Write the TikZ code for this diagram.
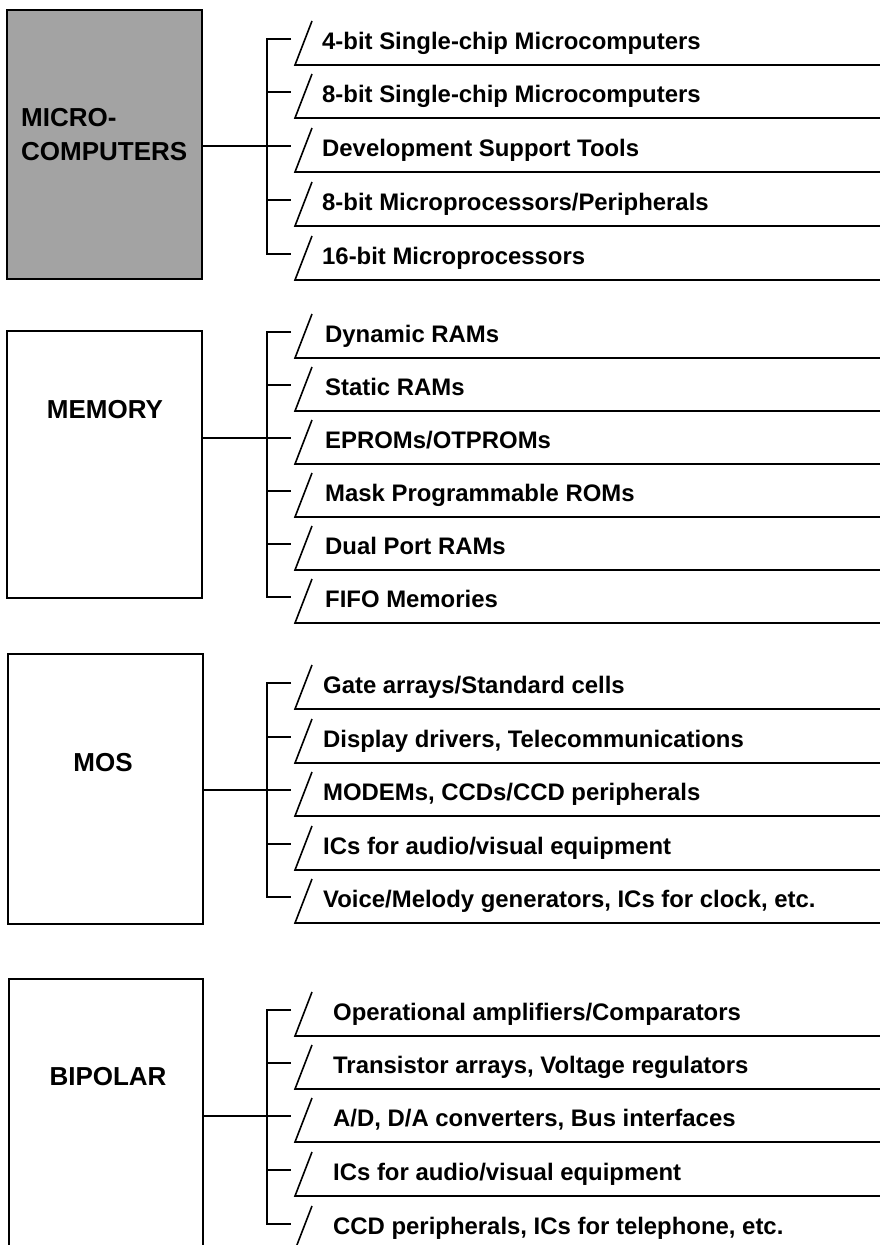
\documentclass[tikz,border=0pt]{standalone}
\usepackage{fontspec}
\setmainfont{Liberation Sans}
\definecolor{boxgray}{RGB}{163,163,163}
\begin{document}
\begin{tikzpicture}[x=1pt,y=-1pt,
  rule/.style={line width=1.6pt, black},
  catbox/.style={draw, line width=1.8pt, anchor=north west, inner sep=0pt},
  catlabel/.style={font=\fontsize{26}{34}\selectfont\bfseries, inner sep=0pt, align=left},
  itemtext/.style={font=\fontsize{23.9}{28}\selectfont\bfseries, inner sep=0pt, anchor=base west},
]
\useasboundingbox (0,0) rectangle (880,1245);
\clip (0,0) rectangle (880,1245);

% ---------- category boxes ----------
\node[catbox, fill=boxgray, minimum width=195pt, minimum height=269pt] (micro) at (6,9) {};
\node[catbox, minimum width=195pt, minimum height=267pt] (memory) at (6,330) {};
\node[catbox, minimum width=195pt, minimum height=270pt] (mos) at (7,653) {};
\node[catbox, minimum width=194pt, minimum height=300pt] (bipolar) at (8,978) {};

\node[catlabel, anchor=west] (microlabel) at (21,135) {MICRO-\\COMPUTERS};
\node[catlabel] (memorylabel) at (105,410) {MEMORY};
\node[catlabel] (moslabel) at (103,763) {MOS};
\node[catlabel] (bipolarlabel) at (108,1077) {BIPOLAR};

% ---------- one entry: branch, slash and rule, with its text ----------
\newcommand\entryrow[4]{% #1 name, #2 branch y, #3 text x, #4 text
  \coordinate (#1-bus) at (267,#2);
  \coordinate (#1-end) at (291,#2);
  \coordinate (#1-top) at (312,#2-18);
  \coordinate (#1-foot) at (295,#2+26);
  \coordinate (#1-rule) at (880,#2+26);
  \node[itemtext] (#1) at (#3,#2+10) {#4};
  \draw[rule] (#1-top) -- (#1-foot) -- (#1-rule);
}

% MICROCOMPUTERS
\foreach [count=\i] \b/\t in {39/{4-bit Single-chip Microcomputers},
  92/{8-bit Single-chip Microcomputers},
  146/{Development Support Tools},
  200/{8-bit Microprocessors/Peripherals},
  254/{16-bit Microprocessors}}
  {\entryrow{mc\i}{\b}{322}{\t}}
\draw[rule] (mc1-end) -- (mc1-bus) -- (mc5-bus) -- (mc5-end);
\foreach \i in {2,3,4} {\draw[rule] (mc\i-bus) -- (mc\i-end);}
\draw[rule] (micro.east |- mc3-bus) -- (mc3-bus);

% MEMORY
\foreach [count=\i] \b/\t in {332/{Dynamic RAMs},
  385/{Static RAMs},
  438/{EPROMs/OTPROMs},
  491/{Mask Programmable ROMs},
  544/{Dual Port RAMs},
  597/{FIFO Memories}}
  {\entryrow{me\i}{\b}{325}{\t}}
\draw[rule] (me1-end) -- (me1-bus) -- (me6-bus) -- (me6-end);
\foreach \i in {2,3,4,5} {\draw[rule] (me\i-bus) -- (me\i-end);}
\draw[rule] (memory.east |- me3-bus) -- (me3-bus);

% MOS
\foreach [count=\i] \b/\t in {683/{Gate arrays/Standard cells},
  737/{Display drivers, Telecommunications},
  790/{MODEMs, CCDs/CCD peripherals},
  844/{ICs for audio/visual equipment},
  897/{Voice/Melody generators, ICs for clock, etc.}}
  {\entryrow{mo\i}{\b}{323}{\t}}
\draw[rule] (mo1-end) -- (mo1-bus) -- (mo5-bus) -- (mo5-end);
\foreach \i in {2,3,4} {\draw[rule] (mo\i-bus) -- (mo\i-end);}
\draw[rule] (mos.east |- mo3-bus) -- (mo3-bus);

% BIPOLAR
\foreach [count=\i] \b/\t in {1010/{Operational amplifiers/Comparators},
  1063/{Transistor arrays, Voltage regulators},
  1116/{A/D, D/A converters, Bus interfaces},
  1170/{ICs for audio/visual equipment},
  1224/{CCD peripherals, ICs for telephone, etc.}}
  {\entryrow{bi\i}{\b}{333}{\t}}
\draw[rule] (bi1-end) -- (bi1-bus) -- (bi5-bus) -- (bi5-end);
\foreach \i in {2,3,4} {\draw[rule] (bi\i-bus) -- (bi\i-end);}
\draw[rule] (bipolar.east |- bi3-bus) -- (bi3-bus);
\end{tikzpicture}
\end{document}
